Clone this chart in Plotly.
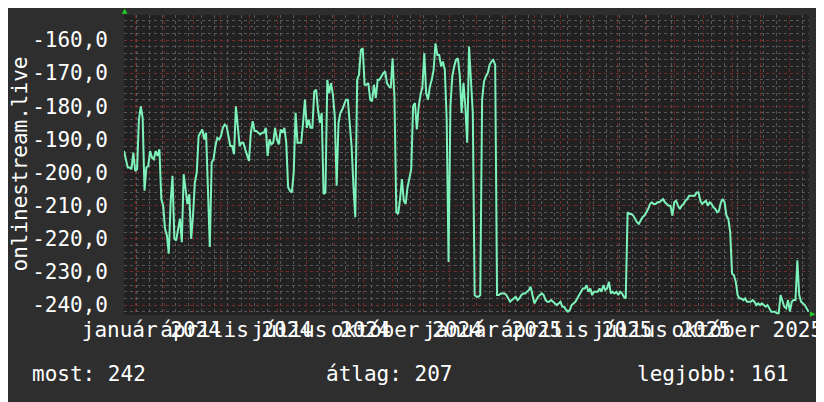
import pandas as pd
import plotly.graph_objects as go

# ---------------- data ----------------
start = pd.Timestamp("2023-11-29 12:00")
step_days = 2
values = [
    -193.5, -196, -198.5, -198.5, -199, -194, -199.5, -199, -184, -180,
    -183.5, -205.5, -198.5, -198, -193.5, -195.5, -196, -193.5, -195, -193,
    -208, -210, -217, -219, -224.5, -209, -201, -220, -220.5, -217,
    -214, -221, -200.5, -205, -209.5, -206.5, -220, -213, -203, -200,
    -189, -188, -187, -190, -188, -205, -222.5, -197, -196, -192,
    -189.5, -190, -189, -186.5, -185.5, -186, -188.5, -192, -192, -194.5,
    -180, -187, -192, -191, -191, -193, -194.5, -196.5, -188, -184.5,
    -187.5, -187.5, -188, -188.5, -188, -188, -186.5, -195, -190, -191.5,
    -191, -186.5, -190, -191.5, -187, -188, -186.5, -191, -204.5, -205.5,
    -206, -200, -182, -191, -191, -191, -185, -178, -186.5, -184,
    -186.5, -186.5, -175.5, -175, -181, -185, -182, -206.5, -206, -172,
    -176, -173, -176.5, -183, -204, -185, -182, -181, -179.5, -178,
    -178, -186, -192, -204, -213.5, -172, -170.5, -163, -162.5, -173.5,
    -173.5, -173, -178, -178.5, -173.5, -177.5, -172, -172, -171, -170,
    -169.5, -173, -174, -174.5, -165.5, -177.5, -212, -212.5, -208, -202,
    -208.5, -209.5, -204.5, -202, -199, -180, -179, -187, -180, -176.5,
    -174, -164, -176, -178, -174, -172, -169, -161, -164.5, -164.5,
    -168, -166.5, -169, -184, -227, -180, -171, -168, -166, -165.5,
    -170.5, -182, -173, -180, -191, -162, -174, -182, -237, -237.5,
    -237.5, -237, -178, -172.5, -171, -170, -167.5, -166.5, -166, -167.5,
    -237, -237, -236.5, -236.5, -236.5, -237, -238, -239, -238.5, -238,
    -237.5, -238.5, -238, -237, -236.5, -236.5, -236, -235.5, -234.5, -237.5,
    -239.5, -238.5, -237.5, -237, -236.5, -237, -238.5, -239, -239, -238.5,
    -239, -239.5, -240, -239.5, -239, -240.5, -240.5, -241.5, -242, -241.5,
    -240, -239.5, -239, -238, -237, -236, -235, -235, -234, -236,
    -235, -237, -236, -236, -236, -235, -236, -234, -235.5, -235,
    -233, -236.5, -236, -236.5, -236, -237, -236, -236.5, -237.5, -238,
    -212, -212.5, -212.5, -213, -214, -215, -215.5, -214.5, -213.5, -213,
    -212, -211, -209.5, -209, -209.5, -209.5, -209, -209, -208.5, -208,
    -209, -209.5, -210, -210, -213, -209, -208.5, -210, -211, -210,
    -209.5, -208.5, -208, -207, -207, -207, -207, -206, -206, -208.5,
    -209.5, -209, -208.5, -210, -209, -209.5, -210.5, -211, -212, -211.5,
    -209, -208, -209, -213, -214, -218, -230.5, -231, -233, -237,
    -238, -238, -238.5, -238, -239, -239, -239, -238.5, -239, -240,
    -239.5, -240, -239.5, -240, -240.5, -240, -241, -242, -242, -242,
    -242.5, -242.5, -237, -239, -240.5, -241, -238.5, -242, -239, -238.5,
    -238.5, -226.5, -237, -239, -239.5, -240, -241, -242,
]
dates = [start + pd.Timedelta(days=step_days * i) for i in range(len(values))]

x_range = ["2023-11-29 12:00", "2025-12-03 00:00"]
y_range = [-243.0, -152.45]
y_ticks = [-240, -230, -220, -210, -200, -190, -180, -170, -160]
y_ticktext = [f"{v:.1f}".replace(".", ",") for v in y_ticks]
label_dates = ["2024-01-01", "2024-04-01", "2024-07-01", "2024-10-01",
               "2025-01-01", "2025-04-01", "2025-07-01", "2025-10-01"]
label_text = ["január 2024", "április 2024", "július 2024", "október 2024",
              "január 2025", "április 2025", "július 2025", "október 2025"]
axis_title = "onlinestream.live"
legend_names = ["most", "átlag", "legjobb"]
legend_values = [242, 207, 161]

# ---------------- style ----------------
FONT = "DejaVu Sans Mono"
TXT = "#ffffff"
LINE = "#7df2ba"
RED = "rgba(120,40,40,0.95)"
GREY = "rgba(100,100,100,0.8)"
ARROW = "#22cc22"

fig = go.Figure()
fig.add_trace(go.Scatter(
    x=dates, y=values, mode="lines",
    line=dict(color=LINE, width=2), hoverinfo="skip", showlegend=False,
))
# helper trace so that the label axis is drawn
fig.add_trace(go.Scatter(
    x=[x_range[0]], y=[y_ticks[0]], xaxis="x2", mode="markers",
    marker=dict(opacity=0, size=1), hoverinfo="skip", showlegend=False,
))

# the page body keeps an 8px margin, so the figure is 8px smaller each way
fig.update_layout(
    width=816, height=394,
    margin=dict(l=116, r=15, t=7, b=87, pad=0),
    paper_bgcolor="#2e2e2e",
    plot_bgcolor="#212121",
    font=dict(family=FONT, color=TXT, size=21),
    showlegend=False,
    xaxis=dict(
        type="date", range=x_range, automargin=False,
        tickmode="linear", tick0="2023-12-12", dtick="M1",
        showticklabels=False, ticks="",
        showgrid=True, gridcolor=RED, griddash="dot", gridwidth=1,
        minor=dict(showgrid=True, gridcolor=GREY, griddash="dot",
                   tick0="2023-12-27", dtick=14 * 86400000, gridwidth=1),
        zeroline=False, showline=False,
    ),
    xaxis2=dict(
        type="date", range=x_range, overlaying="x", anchor="y", side="bottom",
        automargin=False, tickangle=0, ticklabeloverflow="allow",
        tickmode="array", tickvals=label_dates, ticktext=label_text,
        ticks="", showgrid=False, zeroline=False, showline=False,
        ticklabelstandoff=0, ticklabelshift=-3,
        tickfont=dict(family=FONT, color=TXT, size=21),
    ),
    yaxis=dict(
        range=y_range, automargin=False,
        tickmode="array", tickvals=y_ticks, ticktext=y_ticktext,
        ticks="", ticklabelstandoff=15,
        showgrid=True, gridcolor=RED, griddash="dot", gridwidth=1,
        minor=dict(showgrid=True, gridcolor=GREY, griddash="dot",
                   tickmode="linear", tick0=-240, dtick=2, gridwidth=1),
        zeroline=False, showline=False,
        tickfont=dict(family=FONT, color=TXT, size=21),
    ),
)

# vertical axis title
fig.add_annotation(
    xref="paper", yref="paper", x=-0.1518, y=0.5017,
    xanchor="center", yanchor="middle", showarrow=False, textangle=-90,
    borderpad=0,
    text=axis_title, font=dict(family=FONT, color=TXT, size=21),
)

# summary line below the chart
legend_x = [-0.1372, 0.2920, 0.7460]
for name, val, xp in zip(legend_names, legend_values, legend_x):
    fig.add_annotation(
        xref="paper", yref="paper", x=xp, y=-0.1967,
        xanchor="left", yanchor="middle", showarrow=False,
        text=f"{name}: {val}",
        font=dict(family=FONT, color=TXT, size=21),
    )

# axis direction arrows
fig.add_annotation(xref="paper", yref="paper", x=0.0015, y=1.015,
                   xanchor="center", yanchor="middle", showarrow=False,
                   text="▲", font=dict(family="DejaVu Sans", color=ARROW, size=7))
fig.add_annotation(xref="paper", yref="paper", x=1.0058, y=0.0017,
                   xanchor="center", yanchor="middle", showarrow=False,
                   text="▶", font=dict(family="DejaVu Sans", color=ARROW, size=7))

fig.write_html("out.html")
